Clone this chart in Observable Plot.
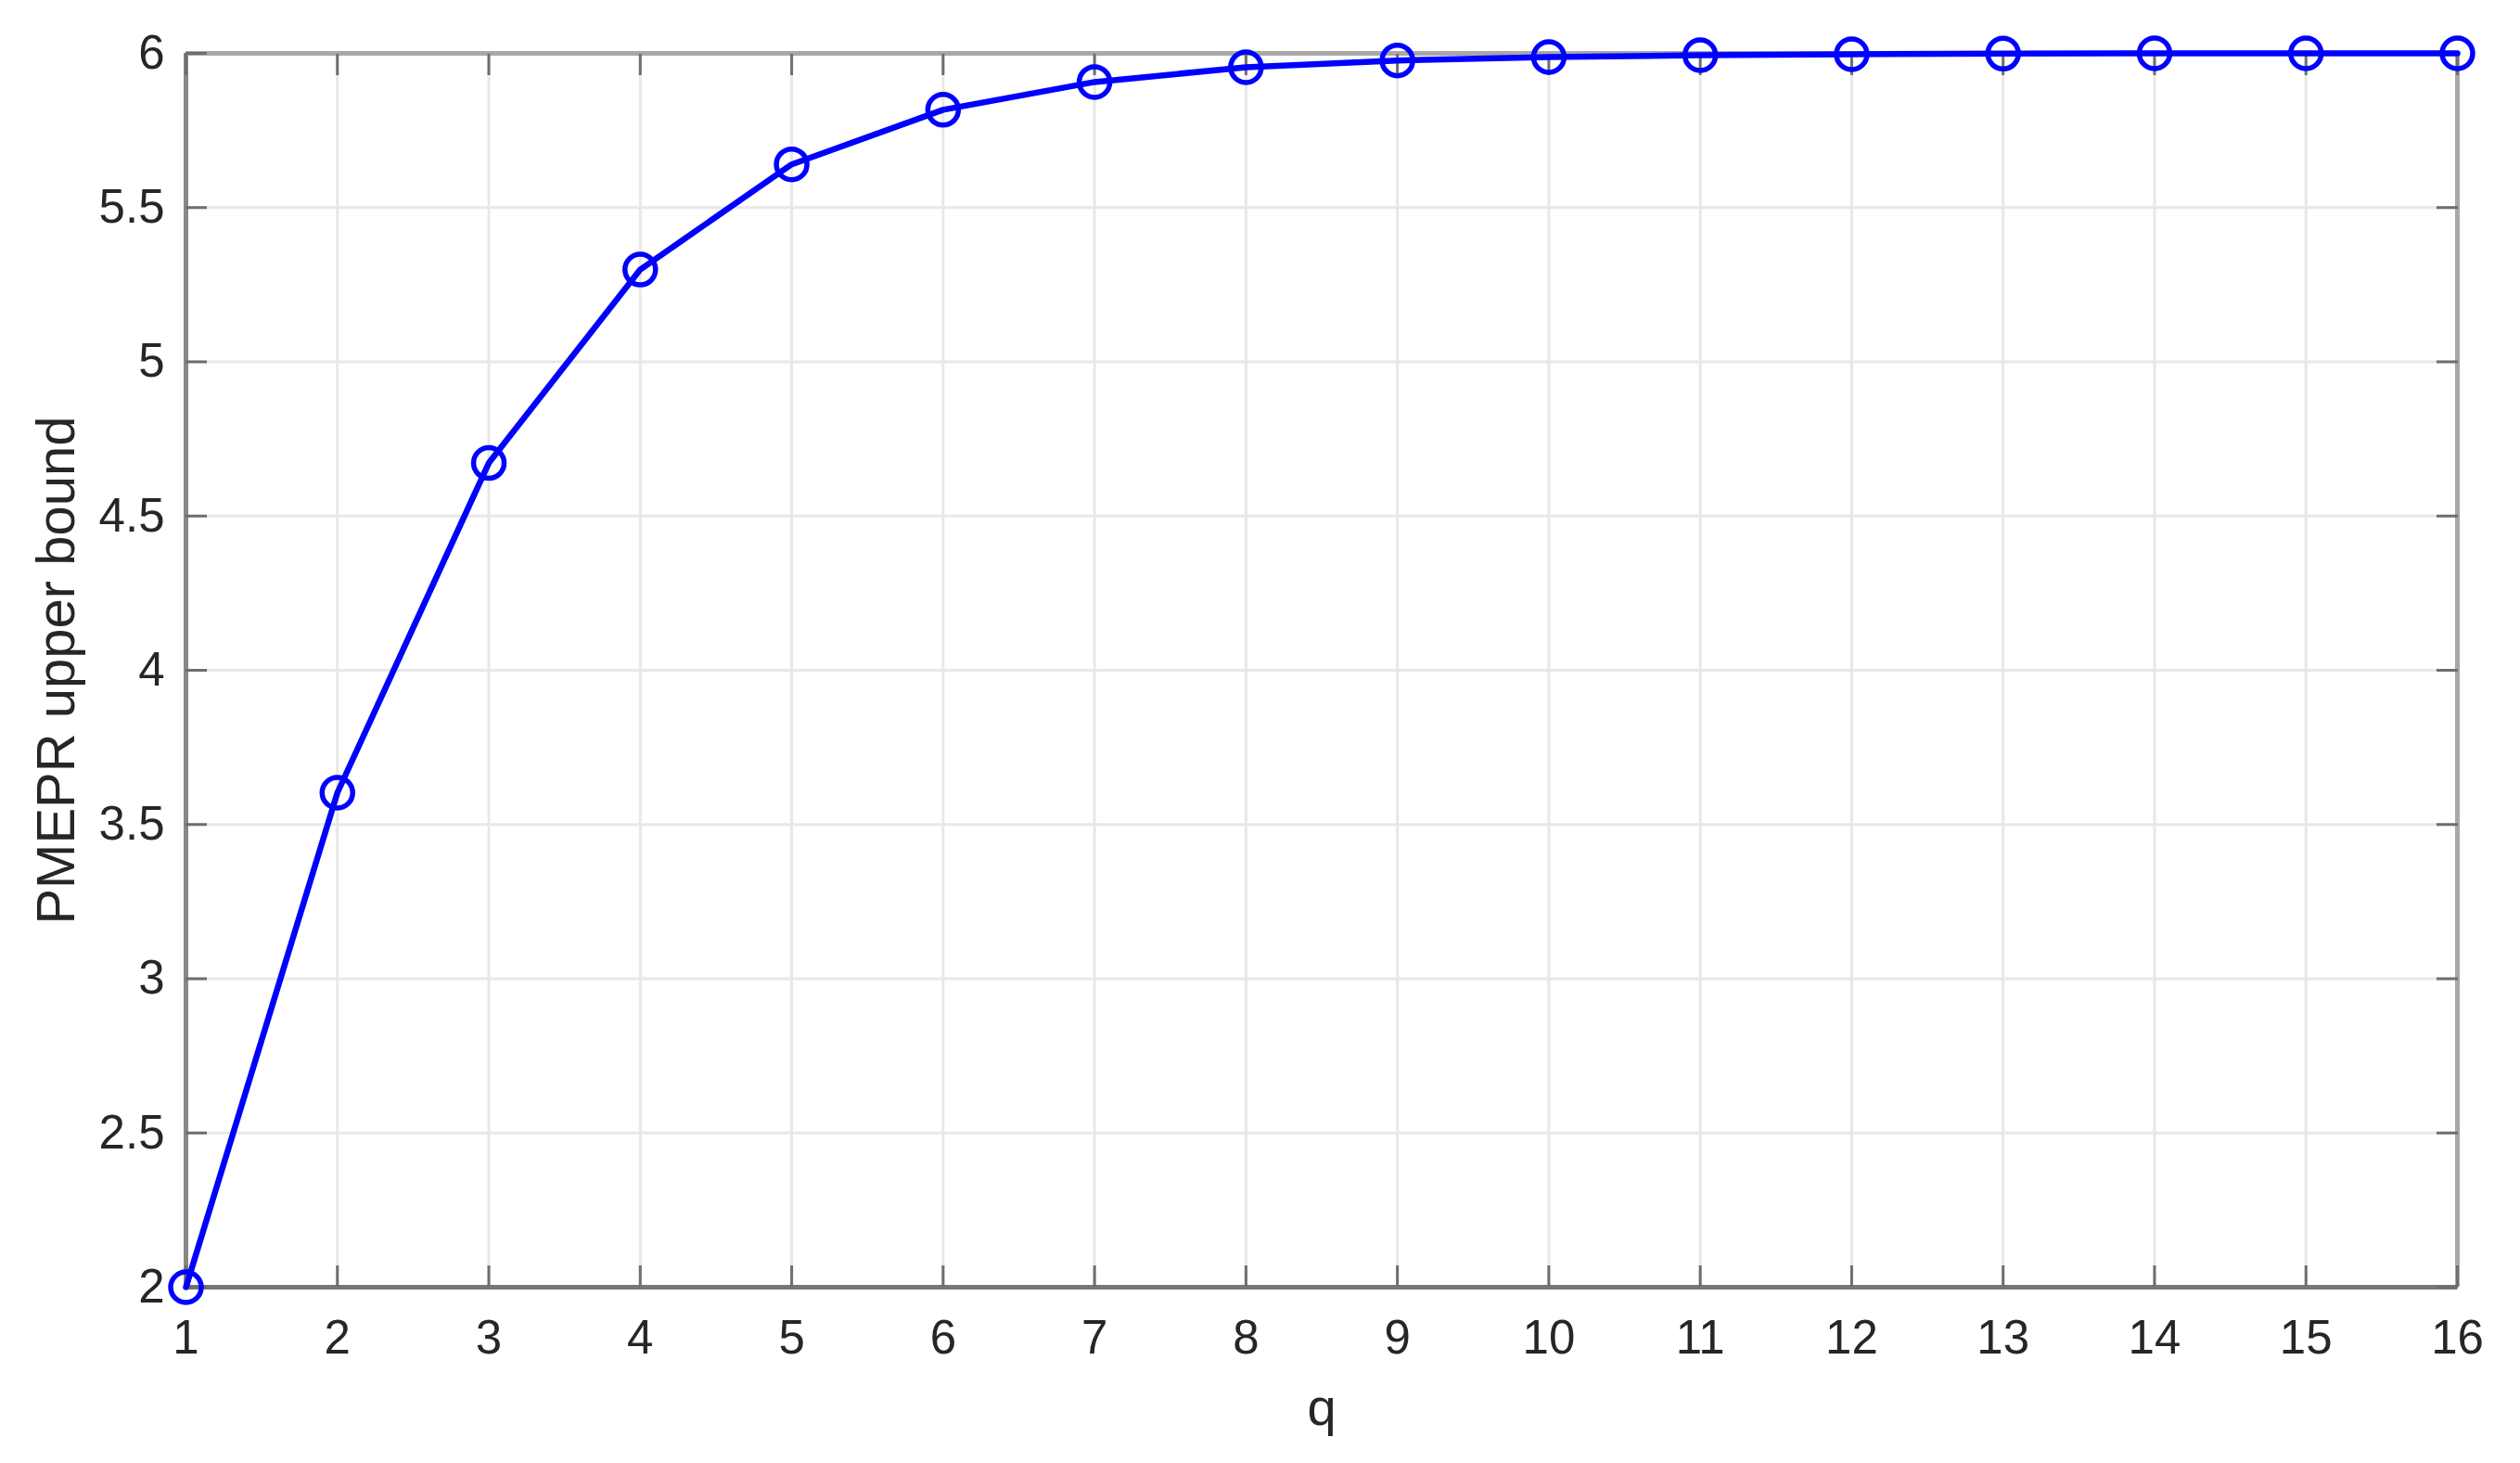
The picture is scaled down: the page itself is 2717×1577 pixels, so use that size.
<!DOCTYPE html>
<html>
<head>
<meta charset="utf-8">
<script src="https://cdn.jsdelivr.net/npm/d3@7"></script>
<script src="https://cdn.jsdelivr.net/npm/@observablehq/plot@0.6"></script>
<style>
  html, body { margin: 0; padding: 0; background: #fff; }
  #chart svg { display: block; }
</style>
</head>
<body>
<div id="chart"></div>
<script>
const q = [1, 2, 3, 4, 5, 6, 7, 8, 9, 10, 11, 12, 13, 14, 15, 16];
const pmepr = [2.0, 3.603, 4.672, 5.299, 5.640, 5.817, 5.907, 5.955, 5.977, 5.988, 5.994, 5.997, 5.999, 6.0, 6.0, 6.0];
const xTicks = [1, 2, 3, 4, 5, 6, 7, 8, 9, 10, 11, 12, 13, 14, 15, 16];
const yTicks = [2, 2.5, 3, 3.5, 4, 4.5, 5, 5.5, 6];
const xDomain = [1, 16];
const yDomain = [2, 6];
const xLabel = "q";
const yLabel = "PMEPR upper bound";

const data = q.map((v, i) => ({q: v, y: pmepr[i]}));
const fmt = (d) => String(d);

const chart = Plot.plot({
  width: 2717,
  height: 1577,
  marginLeft: 200,
  marginRight: 68,
  marginTop: 57,
  marginBottom: 190,
  style: {fontFamily: "'Liberation Sans', Arial, sans-serif", color: "#262626", background: "#fff"},
  x: {domain: xDomain, ticks: xTicks},
  y: {domain: yDomain, ticks: yTicks},
  marks: [
    Plot.gridX(xTicks, {stroke: "#e8e8e8", strokeOpacity: 1, strokeWidth: 3}),
    Plot.gridY(yTicks, {stroke: "#e8e8e8", strokeOpacity: 1, strokeWidth: 3}),
    // box
    Plot.ruleY([yDomain[1]], {stroke: "#a8a8a8", strokeWidth: 5}),
    Plot.ruleX([xDomain[1]], {stroke: "#a8a8a8", strokeWidth: 5}),
    Plot.ruleY([yDomain[0]], {stroke: "#777777", strokeWidth: 5}),
    Plot.ruleX([xDomain[0]], {stroke: "#888888", strokeWidth: 5}),
    // inward ticks
    Plot.axisX(xTicks, {anchor: "bottom", tickSize: -23, fill: "none", stroke: "#6e6e6e", strokeWidth: 3, label: null}),
    Plot.axisX(xTicks, {anchor: "top", tickSize: -23, fill: "none", stroke: "#6e6e6e", strokeWidth: 3, label: null}),
    Plot.axisY(yTicks, {anchor: "left", tickSize: -23, fill: "none", stroke: "#6e6e6e", strokeWidth: 3, label: null}),
    Plot.axisY(yTicks, {anchor: "right", tickSize: -23, fill: "none", stroke: "#6e6e6e", strokeWidth: 3, label: null}),
    // tick labels
    Plot.axisX(xTicks, {anchor: "bottom", tickSize: 0, tickPadding: 35, fontSize: 51, fill: "#262626",
      tickFormat: fmt, label: null}),
    Plot.axisY(yTicks, {anchor: "left", tickSize: 0, tickPadding: 23, fontSize: 51, fill: "#262626",
      tickFormat: fmt, label: null}),
    // axis titles
    Plot.axisX([], {anchor: "bottom", tickSize: 0, fontSize: 56, fill: "#262626",
      label: xLabel, labelAnchor: "center", labelArrow: "none", labelOffset: 148}),
    Plot.axisY([], {anchor: "left", tickSize: 0, fontSize: 58, fill: "#262626",
      label: yLabel, labelAnchor: "center", labelArrow: "none", labelOffset: 162}),
    // data
    Plot.line(data, {x: "q", y: "y", stroke: "#0000ff", strokeWidth: 6.5}),
    Plot.dot(data, {x: "q", y: "y", r: 16.5, stroke: "#0000ff", strokeWidth: 5.5, fill: "none"})
  ]
});
document.getElementById("chart").appendChild(chart);
</script>
</body>
</html>
